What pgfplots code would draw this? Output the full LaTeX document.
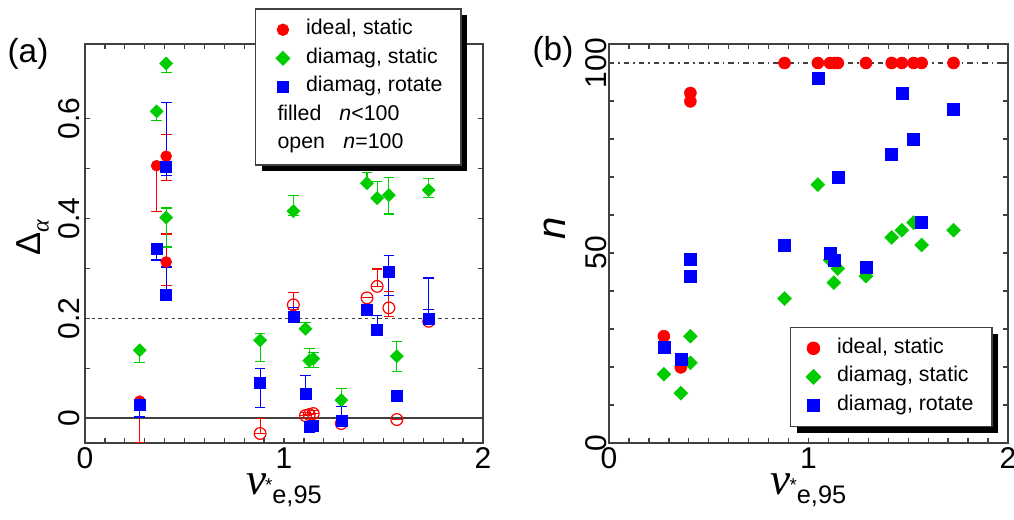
\documentclass[border=0pt]{standalone}
\usepackage{pgfplots}
\pgfplotsset{compat=1.18}
\usetikzlibrary{shadows}
\usepackage{fontspec}
\setmainfont{Liberation Sans}
\newfontfamily\serif{Liberation Serif}

\definecolor{cred}{RGB}{255,0,0}
\definecolor{cgreen}{RGB}{0,204,0}
\definecolor{cblue}{RGB}{0,0,255}
\definecolor{axgray}{RGB}{64,64,64}

% diamond with equal width and height
\pgfdeclareplotmark{dia}{%
  \pgfpathmoveto{\pgfqpoint{0pt}{\pgfplotmarksize}}%
  \pgfpathlineto{\pgfqpoint{\pgfplotmarksize}{0pt}}%
  \pgfpathlineto{\pgfqpoint{0pt}{-\pgfplotmarksize}}%
  \pgfpathlineto{\pgfqpoint{-\pgfplotmarksize}{0pt}}%
  \pgfpathclose\pgfusepathqfillstroke}

\newcommand\nulab{{\fontsize{34}{34}\selectfont\serif\itshape ν}\kern-1pt\raisebox{2pt}{\fontsize{14}{14}\selectfont*}\raisebox{-7pt}{\fontsize{19}{19}\selectfont e,95}}

\pgfplotsset{
  panel/.style={
    scale only axis, width=298.5pt, height=299.25pt,
    xmin=0, xmax=2, xtick={0,1,2}, minor x tick num=9,
    axis line style={axgray, line width=1.1pt},
    every tick/.style={axgray, line width=1pt},
    major tick length=3.75pt, minor tick length=3.75pt,
    tick label style={font=\fontsize{22.5}{22.5}\selectfont},
    /pgf/number format/assume math mode=true,
    yticklabel style={rotate=90, anchor=south},
    xlabel={\nulab},
    xlabel style={at={(axis description cs:0.5,-0.118)}, anchor=center},
    legend cell align=left,
    legend style={draw=axgray, line width=1.1pt, fill=white,
      drop shadow={shadow xshift=4.5pt, shadow yshift=-5pt, fill=black, opacity=1},
      font=\fontsize{16}{16}\selectfont, row sep=0pt,
      inner xsep=12pt, inner ysep=5pt,
      /tikz/every odd column/.append style={column sep=10.5pt},
      nodes={inner sep=2pt, text height=12.5pt, text depth=4.9pt}},
  },
  rc/.style={only marks, mark=*, mark size=4.1pt, color=cred},
  ro/.style={only marks, mark=o, mark size=4.4pt, color=cred, mark options={line width=0.9pt}},
  gd/.style={only marks, mark=dia, mark size=4.9pt, color=cgreen},
  bs/.style={only marks, mark=square*, mark size=4.1pt, color=cblue},
  errs/.style={error bars/y dir=both, error bars/y explicit,
    error bars/error bar style={line width=0.9pt},
    error bars/error mark options={rotate=90, line width=0.9pt, mark size=4pt}},
  % legend row whose first word sits in the marker column
  wordimage/.style={legend image code/.code={%
    \node[overlay, anchor=west, inner sep=0pt] at (0.3cm-4.6pt,0) {#1};}},
}

\begin{document}
\begin{tikzpicture}
\path[use as bounding box] (0,0) rectangle (760.5pt,390pt);
\node[font=\fontsize{25}{25}\selectfont] at (21pt,349.5pt) {(a)};
\node[font=\fontsize{25}{25}\selectfont] at (414.75pt,351pt) {(b)};

\begin{axis}[panel, at={(63.75pt,57.75pt)}, anchor=south west,
  ymin=-0.05, ymax=0.75, ytick={0,0.2,0.4,0.6}, minor y tick num=1,
  ylabel={\fontsize{26}{26}\selectfont Δ\raisebox{-6pt}{\fontsize{18}{18}\selectfont\serif\itshape α}},
  ylabel style={at={(axis description cs:-0.131,0.515)}, anchor=center},
  legend style={at={(axis description cs:0.947,1.090)}, anchor=north east},
]
\addplot[axgray, line width=0.9pt, forget plot] coordinates {(0,0) (2,0)};
\addplot[axgray, line width=0.9pt, dash pattern=on 2.5pt off 2.5pt, forget plot] coordinates {(0,0.2) (2,0.2)};

\addplot[rc, errs] coordinates {
(0.275,0.034) += (0,0) -= (0,0.084)
(0.36,0.506) += (0,0) -= (0,0.092)
(0.408,0.525) += (0,0.044) -= (0,0.049)
(0.408,0.313) += (0,0.056) -= (0,0.048)
};
\addlegendentry{ideal, static}

\addplot[ro, errs, forget plot] coordinates {
(0.88,-0.031) += (0,0.030) -= (0,0)
(1.047,0.227) += (0,0.024) -= (0,0.010)
(1.108,0.005) += (0,0.006) -= (0,0)
(1.127,0.007) += (0,0) -= (0,0)
(1.147,0.009) += (0,0.006) -= (0,0)
(1.288,-0.011) += (0,0) -= (0,0)
(1.417,0.241) += (0,0) -= (0,0)
(1.468,0.264) += (0,0.035) -= (0,0)
(1.527,0.221) += (0,0.033) -= (0,0.017)
(1.567,-0.003) += (0,0) -= (0,0)
(1.727,0.194) += (0,0) -= (0,0)
};

\addplot[gd, errs] coordinates {
(0.275,0.136) += (0,0) -= (0,0.025)
(0.36,0.615) += (0,0) -= (0,0.018)
(0.408,0.711) += (0,0) -= (0,0.018)
(0.408,0.402) += (0,0.019) -= (0,0.059)
(0.88,0.156) += (0,0.013) -= (0,0.042)
(1.047,0.415) += (0,0.032) -= (0,0.009)
(1.108,0.179) += (0,0.012) -= (0,0)
(1.127,0.115) += (0,0.024) -= (0,0.013)
(1.147,0.119) += (0,0.012) -= (0,0.017)
(1.288,0.036) += (0,0.023) -= (0,0)
(1.417,0.471) += (0,0.022) -= (0,0)
(1.468,0.441) += (0,0.033) -= (0,0)
(1.527,0.447) += (0,0.035) -= (0,0.038)
(1.567,0.124) += (0,0.030) -= (0,0.031)
(1.727,0.457) += (0,0.024) -= (0,0.015)
};
\addlegendentry{diamag, static}

\addplot[bs, errs] coordinates {
(0.275,0.027) += (0,0) -= (0,0.025)
(0.36,0.339) += (0,0) -= (0,0.022)
(0.408,0.504) += (0,0.128) -= (0,0.017)
(0.408,0.247) += (0,0.056) -= (0,0)
(0.88,0.071) += (0,0.028) -= (0,0.050)
(1.047,0.204) += (0,0.017) -= (0,0)
(1.108,0.049) += (0,0.037) -= (0,0)
(1.127,-0.017) += (0,0) -= (0,0)
(1.147,-0.016) += (0,0) -= (0,0)
(1.288,-0.005) += (0,0.028) -= (0,0)
(1.417,0.217) += (0,0) -= (0,0)
(1.468,0.177) += (0,0.028) -= (0,0)
(1.527,0.293) += (0,0.033) -= (0,0.047)
(1.567,0.045) += (0,0) -= (0,0.012)
(1.727,0.199) += (0,0.082) -= (0,-0.018)
};
\addlegendentry{diamag, rotate}

\addlegendimage{wordimage=filled}
\addlegendentry{\hspace*{25pt}\textit{n}<100}
\addlegendimage{wordimage=open}
\addlegendentry{\hspace*{28pt}\textit{n}=100}
\end{axis}

\begin{axis}[panel, at={(456.75pt,57.75pt)}, anchor=south west,
  width=299.25pt,
  ymin=0, ymax=105, ytick={0,50,100}, minor y tick num=4,
  yticklabel style={inner sep=1.5pt},
  ylabel={\fontsize{30}{30}\selectfont\textit{n}},
  ylabel style={at={(axis description cs:-0.135,0.539)}, anchor=center},
  legend style={at={(axis description cs:0.962,0.040)}, anchor=south east},
]
\addplot[axgray, line width=0.9pt, dash pattern=on 4pt off 3pt on 1.2pt off 3pt, forget plot] coordinates {(0,100) (2,100)};

\addplot[rc, mark size=4.5pt] coordinates {
(0.275,28.1) (0.36,19.9) (0.408,92.1) (0.408,89.9)
(0.88,100) (1.047,100) (1.108,100) (1.13,100) (1.147,100) (1.288,100)
(1.417,100) (1.468,100) (1.527,100) (1.567,100) (1.727,100)
};
\addlegendentry{ideal, static}

\addplot[gd, mark size=5.2pt] coordinates {
(0.275,18.1) (0.36,13.1) (0.408,28.1) (0.408,21.1) (0.88,38.0)
(1.047,68.0) (1.108,48.1) (1.127,42.2) (1.147,45.9) (1.288,43.9)
(1.417,54.1) (1.468,56.0) (1.527,58.0) (1.567,52.1) (1.727,56.0)
};
\addlegendentry{diamag, static}

\addplot[bs, mark size=4.5pt] coordinates {
(0.275,25.1) (0.36,22.1) (0.408,48.3) (0.408,44.0) (0.88,52.1)
(1.047,96.1) (1.108,50.0) (1.127,48.1) (1.147,70.0) (1.288,46.2)
(1.417,76.0) (1.468,92.1) (1.527,79.9) (1.567,58.2) (1.727,87.8)
};
\addlegendentry{diamag, rotate}
\end{axis}
\end{tikzpicture}
\end{document}
